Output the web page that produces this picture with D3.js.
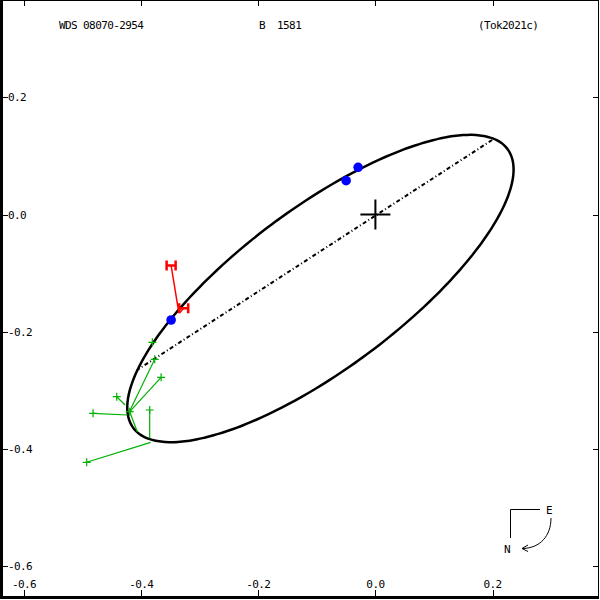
<!DOCTYPE html>
<html lang="en">
<head>
<meta charset="UTF-8">
<title>WDS 08070-2954 orbit</title>
<script src="https://d3js.org/d3.v7.min.js"></script>
<style>
  body { margin: 0; background: #fff; }
  text { font-family: "DejaVu Sans Mono", monospace; font-size: 11px; letter-spacing: -0.6px; fill: #000; }
</style>
</head>
<body>
<div id="chart"></div>
<script>
// header labels
const titles = ["WDS 08070-2954", "B  1581", "(Tok2021c)"];

// axis ticks (arcsec)
const xTicks = [-0.6, -0.4, -0.2, 0.0, 0.2];
const yTicks = [0.2, 0.0, -0.2, -0.4, -0.6];

// apparent orbit: centre, semi-axes, tilt (deg)
const orbitCenter = [-0.0939, -0.1264];
const orbitAxes = [0.3985, 0.1375];
const orbitTilt = 36.7;

// line of nodes end points
const nodeLine = [[0.1993, 0.1272], [-0.4070, -0.2656]];

// micrometer / speckle measures [x, y] and their predicted positions
const greenObs = [[-0.3809, -0.2183], [-0.3769, -0.2473], [-0.3660, -0.2781], [-0.4418, -0.3112],
                  [-0.4822, -0.3395], [-0.4196, -0.3368], [-0.3855, -0.3339], [-0.4931, -0.4232]];
const greenPred = [[-0.3834, -0.2203], [-0.4207, -0.3378], [-0.4207, -0.3378], [-0.4275, -0.3254],
                   [-0.4236, -0.3424], [-0.4065, -0.3715], [-0.3855, -0.3822], [-0.3838, -0.3891]];

// Hipparcos measures
const hipObs = [[-0.3489, -0.0871], [-0.3274, -0.1602]];
const hipPred = [[-0.3360, -0.1660], [-0.3348, -0.1682]];

// blue filled points
const bluePts = [[-0.0295, 0.0806], [-0.0500, 0.0577], [-0.3489, -0.1802]];

const W = 600, H = 600;
const svg = d3.select("#chart").append("svg").attr("width", W).attr("height", H);

const x = d3.scaleLinear().domain([-0.6, 0.2]).range([24.1, 492.5]);
const y = d3.scaleLinear().domain([-0.6, 0.2]).range([565.8, 97.4]);

// frame
svg.append("rect").attr("x", 0).attr("y", 0).attr("width", 3).attr("height", 599).attr("fill", "#000");
svg.append("rect").attr("x", 0).attr("y", 596).attr("width", 599).attr("height", 3).attr("fill", "#000");
svg.append("line").attr("x1", 0).attr("x2", 599).attr("y1", 0.5).attr("y2", 0.5).attr("stroke", "#000");
svg.append("line").attr("x1", 598.5).attr("x2", 598.5).attr("y1", 0).attr("y2", 599).attr("stroke", "#000");

// ticks
const tk = svg.append("g").attr("stroke", "#000").attr("stroke-width", 1);
xTicks.forEach(t => {
  const px = Math.round(x(t)) + 0.5;
  tk.append("line").attr("x1", px).attr("x2", px).attr("y1", 0).attr("y2", 6);
  tk.append("line").attr("x1", px).attr("x2", px).attr("y1", 596).attr("y2", 590);
});
yTicks.forEach(t => {
  const py = Math.round(y(t)) + 0.5;
  tk.append("line").attr("x1", 3).attr("x2", 8).attr("y1", py).attr("y2", py);
  tk.append("line").attr("x1", 598).attr("x2", 593).attr("y1", py).attr("y2", py);
});

svg.selectAll(".xl").data(xTicks).enter().append("text")
  .attr("x", d => x(d)).attr("y", 588).attr("text-anchor", "middle")
  .text(d => d3.format(".1f")(d).replace("−", "-"));
svg.selectAll(".yl").data(yTicks).enter().append("text")
  .attr("x", 8).attr("y", d => y(d) + 4)
  .text(d => d3.format(".1f")(d).replace("−", "-"));

// titles
svg.append("text").attr("x", 59).attr("y", 29).text(titles[0]);
svg.append("text").attr("x", 259).attr("y", 29).attr("xml:space", "preserve").style("white-space", "pre").text(titles[1]);
svg.append("text").attr("x", 478).attr("y", 29).text(titles[2]);

// orbit ellipse
const th = orbitTilt * Math.PI / 180;
const ell = d3.range(0, 361, 2).map(a => {
  const t = a * Math.PI / 180;
  const u = orbitAxes[0] * Math.cos(t), v = orbitAxes[1] * Math.sin(t);
  return [orbitCenter[0] + u * Math.cos(th) - v * Math.sin(th),
          orbitCenter[1] + u * Math.sin(th) + v * Math.cos(th)];
});
const line = d3.line().x(d => x(d[0])).y(d => y(d[1])).curve(d3.curveCardinalClosed);
svg.append("path").attr("d", line(ell)).attr("fill", "none").attr("stroke", "#000").attr("stroke-width", 2.5);

// line of nodes
svg.append("line")
  .attr("x1", x(nodeLine[0][0])).attr("y1", y(nodeLine[0][1]))
  .attr("x2", x(nodeLine[1][0])).attr("y2", y(nodeLine[1][1]))
  .attr("stroke", "#000").attr("stroke-width", 2).attr("stroke-dasharray", "4,2.5,1,2.5");

// green measures
const g = svg.append("g").attr("stroke", "#00b000").attr("stroke-width", 1.2);
greenObs.forEach((d, i) => {
  g.append("line").attr("x1", x(d[0])).attr("y1", y(d[1]))
    .attr("x2", x(greenPred[i][0])).attr("y2", y(greenPred[i][1]));
  g.append("path").attr("d", `M${x(d[0]) - 4},${y(d[1])}h8M${x(d[0])},${y(d[1]) - 4}v8`);
});

// Hipparcos measures
const r = svg.append("g").attr("stroke", "#f00").attr("stroke-width", 1.5).attr("fill", "none");
hipObs.forEach((d, i) => {
  r.append("line").attr("x1", x(d[0])).attr("y1", y(d[1]))
    .attr("x2", x(hipPred[i][0])).attr("y2", y(hipPred[i][1]));
  const cx = x(d[0]), cy = y(d[1]);
  r.append("path").attr("stroke-width", 2.5)
    .attr("d", `M${cx - 4.5},${cy - 5}v10M${cx + 4.5},${cy - 5}v10M${cx - 4.5},${cy}h9`);
});

// blue points
svg.selectAll(".bp").data(bluePts).enter().append("circle")
  .attr("cx", d => x(d[0])).attr("cy", d => y(d[1])).attr("r", 4.8).attr("fill", "#0000ff");

// primary
svg.append("path").attr("d", `M${x(0) - 15},${y(0)}h30M${x(0)},${y(0) - 15}v30`)
  .attr("stroke", "#000").attr("stroke-width", 2);

// compass
const c = svg.append("g").attr("stroke", "#000").attr("fill", "none").attr("stroke-width", 1);
c.append("path").attr("d", "M540,509.5H510.5V538");
c.append("path").attr("d", "M551,518C551,536 540,548 523,548.5");
c.append("path").attr("d", "M528,545L522,548.5L528,551.5");
svg.append("text").attr("x", 546).attr("y", 514).text("E");
svg.append("text").attr("x", 504).attr("y", 553).text("N");
</script>
</body>
</html>
